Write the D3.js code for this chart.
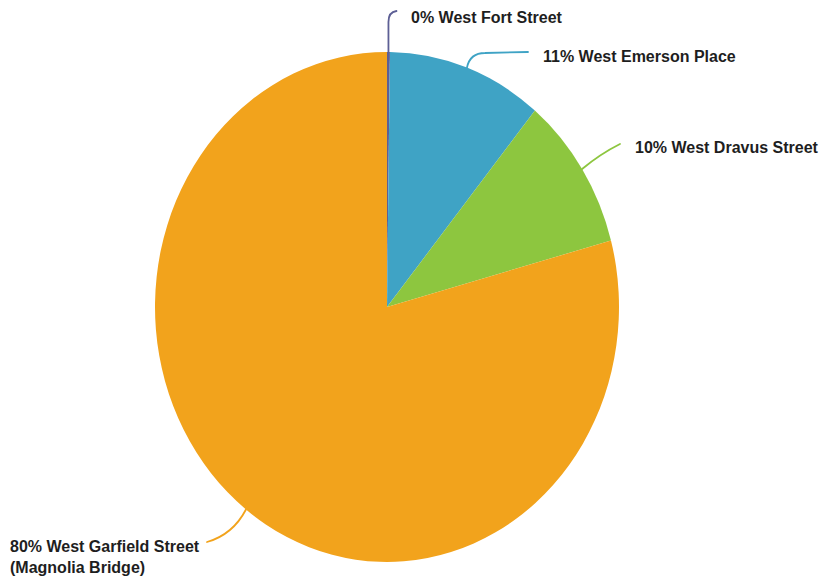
<!DOCTYPE html>
<html>
<head>
<meta charset="utf-8">
<script src="https://cdn.jsdelivr.net/npm/d3@7"></script>
<style>
  html, body { margin: 0; padding: 0; background: #fff; }
  svg { display: block; }
  text { font-family: "Liberation Sans", Arial, Helvetica, sans-serif; font-weight: bold; fill: #1e1e1e; }
</style>
</head>
<body>
<svg id="chart" width="820" height="583"></svg>
<script>
// ---- data ----
const categories = ["West Fort Street", "West Emerson Place", "West Dravus Street", "West Garfield Street (Magnolia Bridge)"];
const percentLabels = ["0%", "11%", "10%", "80%"];
const values = [0.2, 10.8, 9.8, 79.2];
const colors = ["#5d5f95", "#3fa3c5", "#8dc63f", "#f2a31c"];

// ---- layout (positions/styles) ----
const W = 820, H = 583;
const cx = 387, cy = 307, rx = 232, ry = 255;
const labelLayout = [
  { lines: ["0% West Fort Street"], x: 411, y: 23, anchor: "start",
    path: p => `M${p[0]},${p[1] + 8} L${p[0]},22 Q${p[0]},12 ${p[0]+8},11` },
  { lines: ["11% West Emerson Place"], x: 543, y: 62, anchor: "start",
    path: p => `M${p[0]},${p[1]} Q${p[0]+3},53 ${p[0]+18},53 L528,52` },
  { lines: ["10% West Dravus Street"], x: 635, y: 153, anchor: "start",
    path: p => `M${p[0]},${p[1]} Q${p[0]+18},${p[1]-15} 620,144` },
  { lines: ["80% West Garfield Street", "(Magnolia Bridge)"], x: 10, y: 552, anchor: "start",
    path: p => `M${p[0]},${p[1]} Q${p[0]-13},${p[1]+25} 207,542` }
];

const svg = d3.select("#chart");

const pie = d3.pie().sort(null).value(d => d)
  .startAngle(0).endAngle(2 * Math.PI);
const arcs = pie(values);

const arc = d3.arc().innerRadius(0).outerRadius(ry);

const g = svg.append("g")
  .attr("transform", `translate(${cx},${cy}) scale(${rx / ry},1)`);

g.selectAll("path.slice")
  .data(arcs)
  .join("path")
  .attr("class", "slice")
  .attr("d", arc)
  .attr("fill", (d, i) => colors[i]);

function edgePoint(a) {
  return [cx + rx * Math.sin(a), cy - ry * Math.cos(a)];
}

arcs.forEach((d, i) => {
  const mid = (d.startAngle + d.endAngle) / 2;
  const p = edgePoint(mid);
  const L = labelLayout[i];
  svg.append("path")
    .attr("d", L.path(p))
    .attr("fill", "none")
    .attr("stroke", colors[i])
    .attr("stroke-width", 1.8)
    .attr("stroke-linecap", "round");
  const t = svg.append("text")
    .attr("x", L.x)
    .attr("y", L.y)
    .attr("text-anchor", L.anchor)
    .style("font-size", "16px");
  L.lines.forEach((ln, k) => {
    t.append("tspan").attr("x", L.x).attr("dy", k === 0 ? 0 : 21).text(ln);
  });
});
</script>
</body>
</html>
